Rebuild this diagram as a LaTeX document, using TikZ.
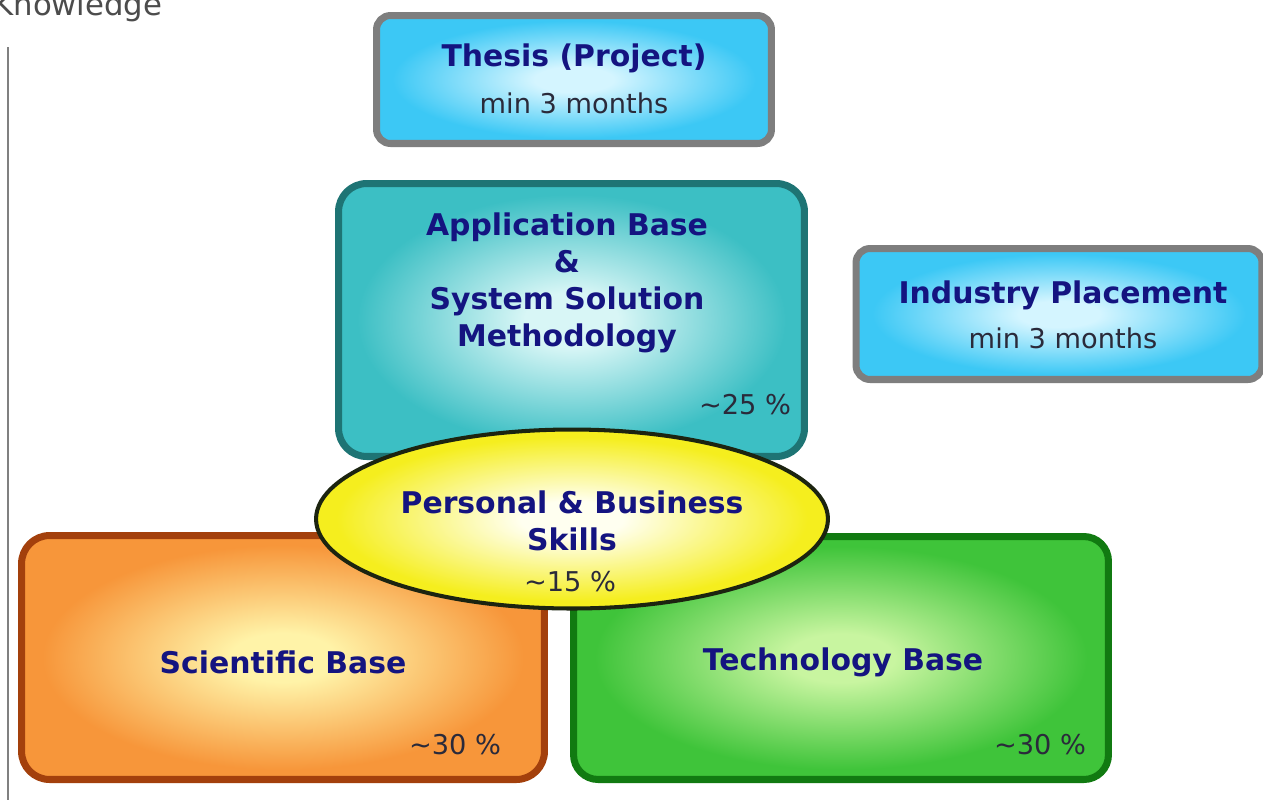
\documentclass[tikz,border=0pt]{standalone}
\usepackage{fontspec}
\setmainfont{DejaVu Sans}
\usetikzlibrary{shapes.geometric}
\colorlet{glowin}{white}
\colorlet{glowout}{white}
\pgfdeclareradialshading[glowin,glowout]{glow}{\pgfpoint{0bp}{0bp}}{color(0bp)=(glowin); color(5bp)=(glowin); color(23bp)=(glowout); color(50bp)=(glowout)}
\definecolor{navy}{HTML}{141480}
\definecolor{pct}{HTML}{2A2A3A}
\definecolor{skyout}{HTML}{3CC8F5}
\definecolor{skyin}{HTML}{D4F5FF}
\definecolor{greyborder}{HTML}{7E7E7E}
\definecolor{tealout}{HTML}{3CBFC4}
\definecolor{tealin}{HTML}{D8F6F6}
\definecolor{tealborder}{HTML}{1E7474}
\definecolor{orout}{HTML}{F7963A}
\definecolor{orin}{HTML}{FFF3A8}
\definecolor{orborder}{HTML}{A3400C}
\definecolor{grout}{HTML}{3FC43A}
\definecolor{grin}{HTML}{C8F5A0}
\definecolor{grborder}{HTML}{117A11}
\definecolor{yelout}{HTML}{F5EE1E}
\definecolor{yelin}{HTML}{FFFFF0}
\definecolor{yelborder}{HTML}{1C2410}
\begin{document}
\begin{tikzpicture}[x=0.02cm,y=-0.02cm,
  glow in/.code={\colorlet{glowin}{#1}},
  glow out/.code={\colorlet{glowout}{#1}},
  boxbase/.style={rectangle, inner sep=0pt, line width=4pt, shading=glow},
  title/.style={font=\fontsize{17}{21}\selectfont\bfseries, text=navy, align=center, inner sep=0pt},
  sub/.style={font=\fontsize{15.5}{19}\selectfont, text=pct, inner sep=0pt},
  pctlabel/.style={font=\fontsize{15.5}{19}\selectfont, text=pct, inner sep=0pt}]
\useasboundingbox (0,0) rectangle (1263,799);
\fill[white] (0,0) rectangle (1263,799);
% axis
\node[anchor=base west, inner sep=0pt, font=\fontsize{17.5}{21}\selectfont, text=black!70] (know) at (-7,15) {Knowledge};
\coordinate (axtop) at (8,47);
\coordinate (axbot) at (8,805);
\draw[black!50, line width=1pt] (axtop) -- (axbot);
% thesis
\node[boxbase, draw=greyborder, glow in=skyin, glow out=skyout, rounded corners=8pt,
  minimum width=7.9cm, minimum height=2.56cm] (thesis) at (574,79.5) {};
\node[title] (thesisT) at (574,58) {Thesis (Project)};
\node[sub] (thesisS) at (574,103) {min 3 months};
% application
\node[boxbase, draw=tealborder, glow in=tealin, glow out=tealout, rounded corners=16pt,
  minimum width=9.32cm, minimum height=5.46cm] (app) at (571.5,320) {};
\node[title] (appT) at (567,283) {Application Base\\\&\\System Solution\\Methodology};
\node[pctlabel] (appP) at (745,405) {\textasciitilde 25 \%};
% industry
\node[boxbase, draw=greyborder, glow in=skyin, glow out=skyout, rounded corners=8pt,
  minimum width=8.12cm, minimum height=2.62cm] (ind) at (1059,314) {};
\node[title] (indT) at (1063,295) {Industry Placement};
\node[sub] (indS) at (1063,338) {min 3 months};
% scientific
\node[boxbase, draw=orborder, glow in=orin, glow out=orout, rounded corners=16pt,
  minimum width=10.46cm, minimum height=4.88cm] (sci) at (283,657.5) {};
\node[title] (sciT) at (283,662) {Scientific Base};
\node[pctlabel] (sciP) at (455,745) {\textasciitilde 30 \%};
% technology
\node[boxbase, draw=grborder, glow in=grin, glow out=grout, rounded corners=14pt,
  minimum width=10.7cm, minimum height=4.86cm] (tech) at (841,658) {};
\node[title] (techT) at (843,662) {Technology Base};
\node[pctlabel] (techP) at (1040,745) {\textasciitilde 30 \%};
% ellipse
\node[ellipse, inner sep=0pt, line width=2.3pt, draw=yelborder, shading=glow, glow in=yelin, glow out=yelout,
  minimum width=10.24cm, minimum height=3.58cm] (pers) at (572,519) {};
\node[title] (persT) at (572,521) {Personal \& Business\\Skills};
\node[pctlabel] (persP) at (570,582) {\textasciitilde 15 \%};
\end{tikzpicture}
\end{document}
